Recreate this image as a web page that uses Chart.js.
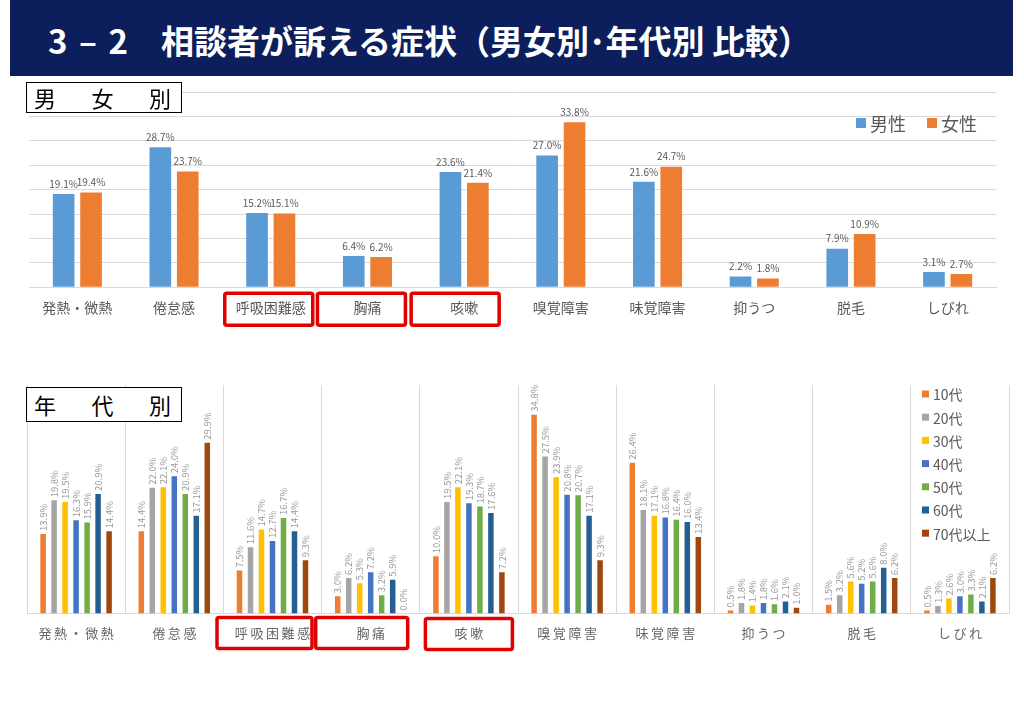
<!DOCTYPE html>
<html><head><meta charset="utf-8">
<script src="https://cdn.jsdelivr.net/npm/chart.js@4.4.0/dist/chart.umd.min.js"></script>
<style>
html,body{margin:0;padding:0;background:#fff;width:1024px;height:709px;overflow:hidden;font-family:"Noto Sans CJK JP","Noto Sans",sans-serif;}
#banner{position:absolute;left:10px;top:0;width:1003px;height:76px;background:#0c1f5c;z-index:1;}
#title{position:absolute;left:48px;top:19px;color:#fff;font-weight:bold;font-size:33px;line-height:42px;white-space:nowrap;z-index:2;}
#title .dash{margin:0 4px;}
.tbox{position:absolute;left:26px;width:156px;height:31px;border:1.5px solid #000;background:#fff;display:flex;justify-content:space-between;padding:0 10px 0 7px;box-sizing:border-box;font-size:22px;line-height:28px;color:#000;z-index:3;}
#c1wrap{position:absolute;left:0;top:80px;width:1024px;height:260px;}
#c2wrap{position:absolute;left:0;top:370px;width:1024px;height:300px;}
</style></head>
<body>
<div id="banner"></div>
<div id="title">3 <span class="dash">–</span> 2　相談者が訴える症状（男女別･年代別 比較）</div>
<div class="tbox" style="top:82px;"><span>男</span><span>女</span><span>別</span></div>
<div class="tbox" style="top:387px;height:35px;line-height:32px;"><span>年</span><span>代</span><span>別</span></div>
<div id="c1wrap"><canvas id="c1"></canvas></div>
<div id="c2wrap"><canvas id="c2"></canvas></div>
<script>
// ---- data ----
const categories = ['発熱・微熱','倦怠感','呼吸困難感','胸痛','咳嗽','嗅覚障害','味覚障害','抑うつ','脱毛','しびれ'];
const sexLabels = ['男性','女性'];
const male   = [19.1, 28.7, 15.2, 6.4, 23.6, 27.0, 21.6, 2.2, 7.9, 3.1];
const female = [19.4, 23.7, 15.1, 6.2, 21.4, 33.8, 24.7, 1.8, 10.9, 2.7];
const ageLabels = ['10代','20代','30代','40代','50代','60代','70代以上'];
const age10 = [13.9, 14.4, 7.5, 3.0, 10.0, 34.8, 26.4, 0.5, 1.5, 0.5];
const age20 = [19.8, 22.0, 11.6, 6.2, 19.5, 27.5, 18.1, 1.8, 3.2, 1.3];
const age30 = [19.5, 22.1, 14.7, 5.3, 22.1, 23.9, 17.1, 1.4, 5.6, 2.6];
const age40 = [16.3, 24.0, 12.7, 7.2, 19.3, 20.8, 16.8, 1.8, 5.2, 3.0];
const age50 = [15.9, 20.9, 16.7, 3.2, 18.7, 20.7, 16.4, 1.6, 5.6, 3.3];
const age60 = [20.9, 17.1, 14.4, 5.9, 17.6, 17.1, 16.0, 2.1, 8.0, 2.1];
const age70 = [14.4, 29.9, 9.3, 0.0, 7.2, 9.3, 13.4, 1.0, 6.2, 6.2];
const yMax = 40, yStep = 5;

// ---- styles ----
const sexColors = ['#5B9BD5', '#ED7D31'];
const ageColors = ['#ED7D31','#A5A5A5','#FFC000','#4472C4','#70AD47','#255E91','#9E480E'];
Chart.defaults.font.family = '"Noto Sans CJK JP","Noto Sans",sans-serif';
Chart.defaults.animation = false;

const valueLabels = {
  id: 'valueLabels',
  afterDatasetsDraw(chart, args, opts) {
    const ctx = chart.ctx;
    chart.data.datasets.forEach((ds, i) => {
      chart.getDatasetMeta(i).data.forEach((bar, j) => {
        const txt = ds.data[j].toFixed(1) + '%';
        ctx.save();
        ctx.fillStyle = opts.color;
        ctx.font = opts.font;
        if (opts.rotate) {
          ctx.translate(bar.x, bar.y - opts.offset);
          ctx.rotate(-Math.PI / 2);
          ctx.textAlign = 'left'; ctx.textBaseline = 'middle';
          ctx.fillText(txt, 0, 0);
        } else {
          ctx.textAlign = 'center'; ctx.textBaseline = 'bottom';
          ctx.fillText(txt, bar.x, bar.y - opts.offset);
        }
        ctx.restore();
      });
    });
  }
};

const redBoxes = {
  id: 'redBoxes',
  afterDraw(chart, args, opts) {
    const ctx = chart.ctx, xs = chart.scales.x, base = chart.chartArea.bottom;
    ctx.save();
    ctx.strokeStyle = '#e00000';
    ctx.lineWidth = 3.5;
    opts.items.forEach(b => {
      const cx = xs.getPixelForValue(b.index) + b.dx;
      ctx.beginPath();
      ctx.roundRect(cx - b.w / 2, base + b.top, b.w, b.h, 2);
      ctx.stroke();
    });
    ctx.restore();
  }
};

const customLegend = {
  id: 'customLegend',
  afterDraw(chart, args, opts) {
    const ctx = chart.ctx;
    ctx.save();
    ctx.font = opts.font;
    ctx.textBaseline = 'middle';
    ctx.textAlign = 'left';
    chart.data.datasets.forEach((ds, i) => {
      const x = chart.chartArea.right + opts.dx + (opts.horizontal ? i * opts.step : 0);
      const y = chart.chartArea.top + opts.dy + (opts.horizontal ? 0 : i * opts.step);
      ctx.fillStyle = ds.backgroundColor;
      ctx.fillRect(x, y - opts.box / 2, opts.box, opts.box);
      ctx.fillStyle = opts.color;
      ctx.fillText(ds.label, x + opts.box + opts.gap, y + 1);
    });
    ctx.restore();
  }
};

new Chart(document.getElementById('c1'), {
  type: 'bar',
  data: {
    labels: categories,
    datasets: [
      { label: sexLabels[0], data: male, backgroundColor: sexColors[0] },
      { label: sexLabels[1], data: female, backgroundColor: sexColors[1] }
    ]
  },
  options: {
    responsive: true, maintainAspectRatio: false,
    layout: { padding: { left: 29, right: 28, top: 12, bottom: 12 } },
    categoryPercentage: 0.567, barPercentage: 0.79,
    scales: {
      x: {
        grid: { display: false, drawTicks: false },
        border: { display: true, color: '#d9d9d9' },
        ticks: { color: '#595959', font: { size: 14 }, padding: 12, autoSkip: false, maxRotation: 0 }
      },
      y: {
        min: 0, max: yMax,
        ticks: { display: false, stepSize: yStep },
        grid: { color: '#d9d9d9', drawTicks: false },
        border: { display: false }
      }
    },
    plugins: {
      legend: { display: false }, tooltip: { enabled: false },
      valueLabels: { color: '#595959', font: '10px "Noto Sans CJK JP"', offset: 5, rotate: false },
      redBoxes: { items: [
        { index: 2, dx: -2, w: 88, top: 6, h: 32 },
        { index: 3, dx: -6, w: 88, top: 6, h: 32 },
        { index: 4, dx: -9, w: 88, top: 6, h: 32 }
      ] },
      customLegend: { horizontal: true, dx: -140, dy: 31, step: 71, box: 10, gap: 4, font: '18px "Noto Sans CJK JP"', color: '#595959' }
    }
  },
  plugins: [valueLabels, redBoxes, customLegend]
});

const ageData = [age10, age20, age30, age40, age50, age60, age70];
new Chart(document.getElementById('c2'), {
  type: 'bar',
  data: {
    labels: categories,
    datasets: ageData.map((d, i) => ({ label: ageLabels[i], data: d, backgroundColor: ageColors[i] }))
  },
  options: {
    responsive: true, maintainAspectRatio: false,
    layout: { padding: { left: 27, right: 15, top: 15, bottom: 17 } },
    categoryPercentage: 0.784, barPercentage: 0.5,
    scales: {
      x: {
        grid: { display: true, offset: true, color: '#d9d9d9', drawTicks: false },
        border: { display: true, color: '#d9d9d9' },
        ticks: { color: '#666666', font: { size: 13 }, padding: 12, autoSkip: false, maxRotation: 0,
          callback: function(v, i) { return Array.from(categories[i]).join('\u2009'); } }
      },
      y: {
        display: false, min: 0, max: yMax
      }
    },
    plugins: {
      legend: { display: false }, tooltip: { enabled: false },
      valueLabels: { color: '#9a9a9a', font: '9.5px "Noto Sans CJK JP"', offset: 3, rotate: true },
      redBoxes: { items: [
        { index: 2, dx: -8, w: 95, top: 4, h: 31 },
        { index: 3, dx: -9, w: 92, top: 4, h: 31 },
        { index: 4, dx: 0, w: 87, top: 5, h: 31 }
      ] },
      customLegend: { horizontal: false, dx: -87, dy: 9, step: 23.2, box: 7, gap: 4, font: '14px "Noto Sans CJK JP"', color: '#595959' }
    }
  },
  plugins: [valueLabels, redBoxes, customLegend]
});
</script>
</body></html>
